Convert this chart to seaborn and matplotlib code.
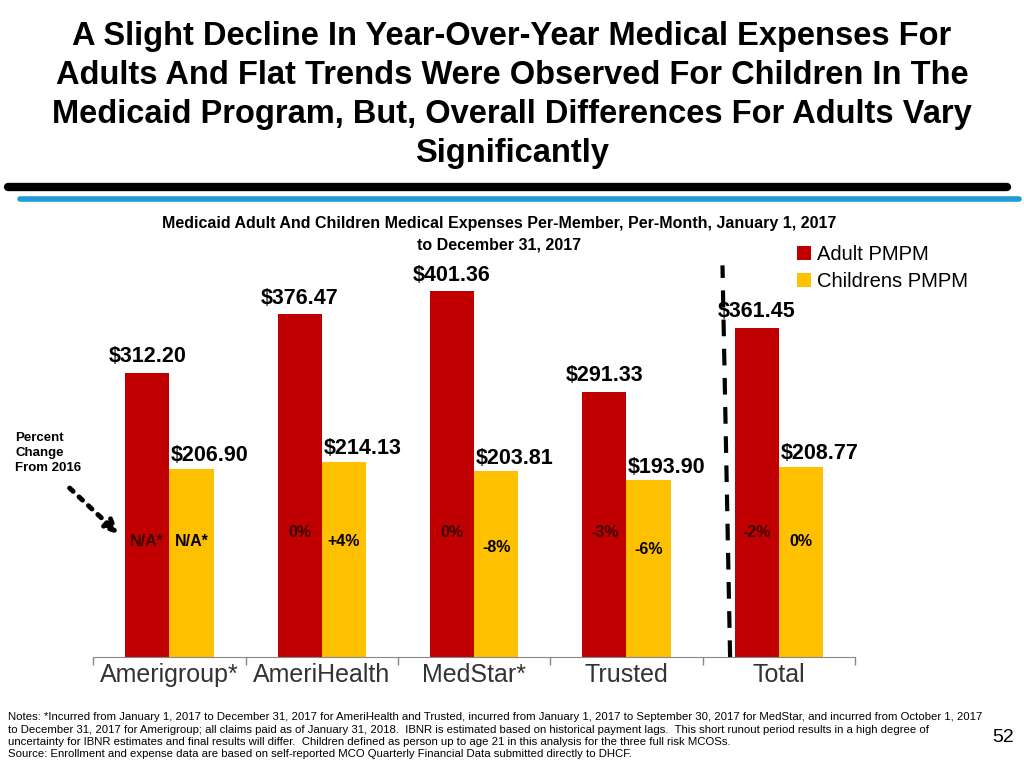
import pandas as pd
import matplotlib
matplotlib.use("Agg")
import matplotlib.pyplot as plt
import seaborn as sns

plans = ["Amerigroup*", "AmeriHealth", "MedStar*", "Trusted", "Total"]
adult_pmpm = [312.20, 376.47, 401.36, 291.33, 361.45]
child_pmpm = [206.90, 214.13, 203.81, 193.90, 208.77]
adult_change = ["N/A*", "0%", "0%", "-3%", "-2%"]
child_change = ["N/A*", "+4%", "-8%", "-6%", "0%"]
series = ["Adult PMPM", "Childrens PMPM"]

sns.set_style("white")
plt.rcParams["font.family"] = ["Liberation Sans", "DejaVu Sans"]
plt.rcParams["text.color"] = "black"

df = pd.DataFrame({
    "plan": plans * 2,
    "pmpm": adult_pmpm + child_pmpm,
    "series": [series[0]] * 5 + [series[1]] * 5,
})

fig = plt.figure(figsize=(10.24, 7.68), dpi=100)
ax = fig.add_axes([0.091, 0.1445, 0.744, 0.523])
sns.barplot(data=df, x="plan", y="pmpm", hue="series", ax=ax, width=0.58,
            palette=["#C00000", "#FFC000"], saturation=1, edgecolor="none")
ax.set_ylim(0, 441)
ax.set_xlim(-0.5, 4.5)
ax.set_xlabel("")
ax.set_ylabel("")
ax.set_yticks([])
for s in ["top", "right", "left"]:
    ax.spines[s].set_visible(False)
ax.spines["bottom"].set_color("#888888")
ax.set_xticks(range(5))
ax.set_xticklabels(plans, color="#333333", fontsize=18)
ax.set_xticks([i + 0.5 for i in range(-1, 5)], minor=True)
ax.tick_params(axis="x", which="major", length=0, pad=4)
ax.tick_params(axis="x", which="minor", bottom=True, length=6, width=1, color="#888888")

off = 0.145
for i in range(5):
    ax.text(i - off, adult_pmpm[i] + 6, f"${adult_pmpm[i]:.2f}", ha="center", va="bottom",
            fontsize=15.5, fontweight="bold")
    ax.text(i + 0.01, child_pmpm[i] + 3, f"${child_pmpm[i]:.2f}", ha="left", va="bottom",
            fontsize=15.5, fontweight="bold")
    ya = 127 if i == 0 else 137
    ax.text(i - off, ya, adult_change[i], ha="center", va="center", fontsize=11.5,
            fontweight="bold", color="#3a0000")
    yc = 127 if i in (0, 1, 4) else 120
    if i == 3:
        yc = 118
    ax.text(i + off, yc, child_change[i], ha="center", va="center", fontsize=11.5,
            fontweight="bold")

ax.plot([3.68, 3.63], [0, 430], color="black", lw=3, ls=(0, (4, 3)), clip_on=False)

ax.legend(loc="upper left", bbox_to_anchor=(0.9, 1.07), frameon=False, fontsize=14.5,
          handlelength=0.7, handleheight=0.7, handletextpad=0.3, labelspacing=0.4)

ax.annotate("", xy=(0.118, 0.302), xytext=(0.066, 0.367), xycoords="figure fraction",
            arrowprops=dict(arrowstyle="-|>", ls=":", lw=3.5, color="black", mutation_scale=20))
fig.text(0.015, 0.41, "Percent\nChange\nFrom 2016", fontsize=9.5, fontweight="bold",
         va="center", linespacing=1.35)

fig.text(0.5, 0.876, "A Slight Decline In Year-Over-Year Medical Expenses For\n"
         "Adults And Flat Trends Were Observed For Children In The\n"
         "Medicaid Program, But, Overall Differences For Adults Vary\nSignificantly",
         ha="center", va="center", fontsize=23.5, fontweight="bold", linespacing=1.33)
fig.add_artist(plt.Line2D([0.008, 0.983], [0.757, 0.757], color="black", lw=6))
fig.add_artist(plt.Line2D([0.02, 0.995], [0.741, 0.741], color="#1F9BD7", lw=4))
fig.text(0.487, 0.695, "Medicaid Adult And Children Medical Expenses Per-Member, Per-Month, January 1, 2017\n"
         "to December 31, 2017", ha="center", va="center", fontsize=11.5, fontweight="bold",
         linespacing=1.5)

fig.text(0.008, 0.042,
         "Notes: *Incurred from January 1, 2017 to December 31, 2017 for AmeriHealth and Trusted, incurred from January 1, 2017 to September 30, 2017 for MedStar, and incurred from October 1, 2017\n"
         "to December 31, 2017 for Amerigroup; all claims paid as of January 31, 2018.  IBNR is estimated based on historical payment lags.  This short runout period results in a high degree of\n"
         "uncertainty for IBNR estimates and final results will differ.  Children defined as person up to age 21 in this analysis for the three full risk MCOSs.\n"
         "Source: Enrollment and expense data are based on self-reported MCO Quarterly Financial Data submitted directly to DHCF.",
         fontsize=8.2, va="center", linespacing=1.3)
fig.text(0.99, 0.04, "52", fontsize=14, ha="right", va="center")

fig.savefig("out.png", dpi=100)
